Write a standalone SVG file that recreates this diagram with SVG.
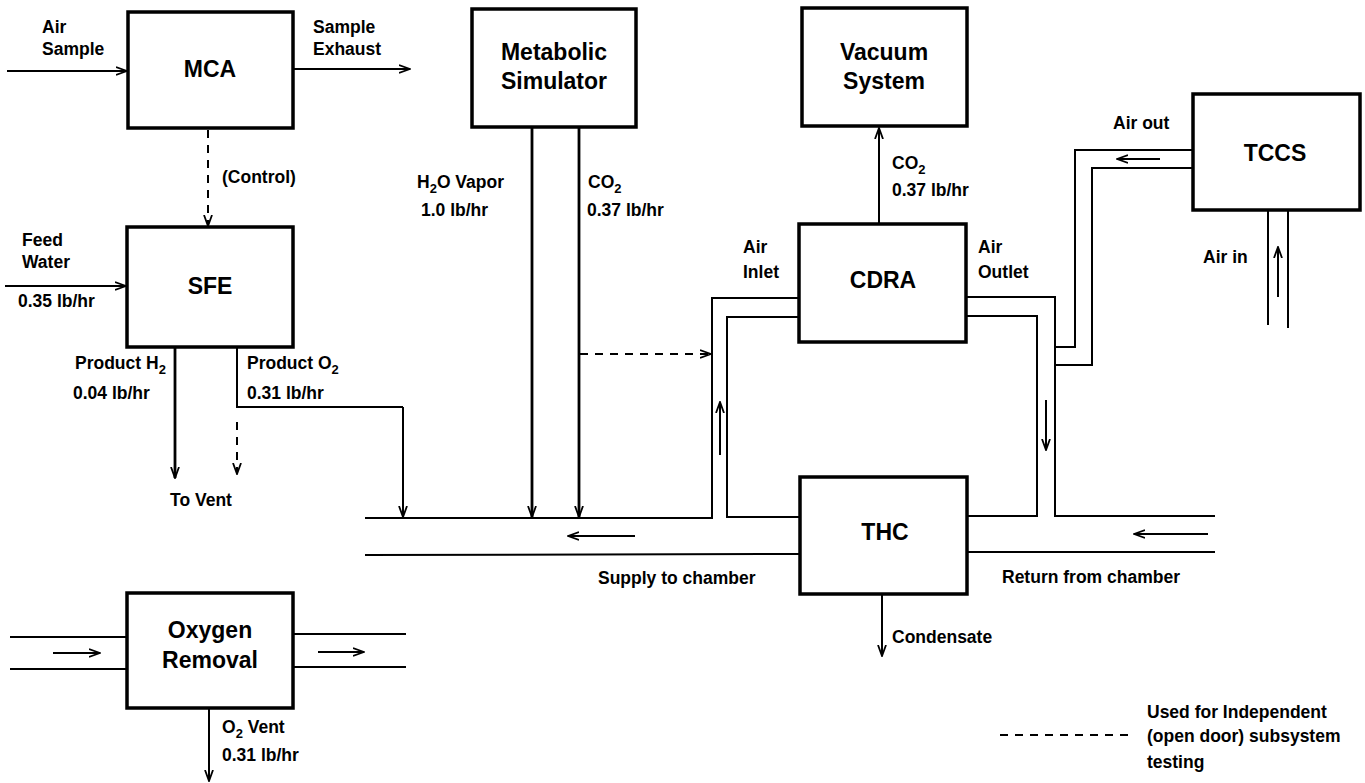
<svg xmlns="http://www.w3.org/2000/svg" width="1365" height="783" viewBox="0 0 1365 783">
<defs>
<style>
.box{fill:#fff;stroke:#000;stroke-width:3.5}
.t{font-family:"Liberation Sans",Arial,sans-serif;font-weight:bold;font-size:23px;text-anchor:middle;fill:#000}
.l{font-family:"Liberation Sans",Arial,sans-serif;font-weight:bold;font-size:17.5px;fill:#000}
.ln{fill:none;stroke:#000;stroke-width:2}
.thk{fill:none;stroke:#000;stroke-width:2.8}
.ds{fill:none;stroke:#000;stroke-width:2;stroke-dasharray:8,7}
.ar{marker-end:url(#arr)}
</style>
<marker id="arr" viewBox="0 0 12 10" refX="11" refY="5" markerWidth="12" markerHeight="10" markerUnits="userSpaceOnUse" orient="auto">
<path d="M0,1 L11,5 L0,9" fill="none" stroke="#000" stroke-width="1.8"/>
</marker>
</defs>
<rect width="1365" height="783" fill="#fff"/>

<g id="connectors">
<!-- MCA -->
<line class="ln ar" x1="7" y1="71" x2="127" y2="71"/>
<line class="ln ar" x1="293" y1="69" x2="410" y2="69"/>
<line class="ds ar" x1="208" y1="130" x2="208" y2="226"/>
<!-- SFE -->
<line class="ln ar" x1="5" y1="286" x2="126" y2="286"/>
<line class="thk ar" x1="175" y1="348" x2="175" y2="478"/>
<polyline class="ln" points="237,348 237,407 403,407"/>
<line class="ln ar" x1="403" y1="407" x2="403" y2="517"/>
<line class="ds ar" x1="237" y1="422" x2="237" y2="474"/>
<!-- Metabolic -->
<line class="thk ar" x1="532" y1="128" x2="532" y2="517"/>
<line class="thk ar" x1="579" y1="128" x2="579" y2="517"/>
<line class="ds ar" x1="580" y1="354" x2="711" y2="354"/>
<!-- supply pipe -->
<polyline class="ln" points="365,518 712,518 712,298 798,298"/>
<polyline class="ln" points="798,317 727,317 727,517 799,517"/>
<line class="ln" x1="365" y1="555" x2="799" y2="554"/>
<line class="ln ar" x1="635" y1="536" x2="568" y2="536"/>
<line class="ln ar" x1="720" y1="455" x2="720" y2="402"/>
<!-- CDRA to vacuum -->
<line class="ln ar" x1="879" y1="223" x2="879" y2="128"/>
<!-- return pipe -->
<polyline class="ln" points="967,297 1055,297 1055,516 1215,516"/>
<polyline class="ln" points="967,316 1037,316 1037,516 968,516"/>
<line class="ln" x1="968" y1="552" x2="1215" y2="552"/>
<line class="ln ar" x1="1208" y1="534" x2="1134" y2="534"/>
<line class="ln ar" x1="1046" y1="400" x2="1046" y2="450"/>
<!-- TCCS pipes -->
<polyline class="ln" points="1192,150 1075,150 1075,347 1055,347"/>
<polyline class="ln" points="1192,168 1092,168 1092,365 1055,365"/>
<line class="ln ar" x1="1160" y1="159" x2="1117" y2="159"/>
<line class="ln" x1="1268" y1="211" x2="1268" y2="325"/>
<line class="ln" x1="1288" y1="211" x2="1288" y2="328"/>
<line class="ln ar" x1="1278" y1="297" x2="1278" y2="247"/>
<!-- THC condensate -->
<line class="ln ar" x1="882" y1="595" x2="882" y2="656"/>
<!-- Oxygen removal -->
<line class="ln" x1="10" y1="637" x2="126" y2="637"/>
<line class="ln" x1="10" y1="669" x2="126" y2="669"/>
<line class="ln ar" x1="53" y1="653" x2="100" y2="653"/>
<line class="ln" x1="294" y1="634" x2="406" y2="634"/>
<line class="ln" x1="294" y1="667" x2="406" y2="667"/>
<line class="ln ar" x1="318" y1="652" x2="364" y2="652"/>
<line class="ln ar" x1="209" y1="709" x2="209" y2="781"/>
<!-- legend -->
<line class="ds" x1="1000" y1="735" x2="1128" y2="735"/>
</g>

<g id="node-mca">
<rect class="box" x="128" y="12" width="165" height="116"/>
<text class="t" x="210" y="77">MCA</text>
<text class="l" x="42" y="33">Air</text>
<text class="l" x="42" y="55">Sample</text>
<text class="l" x="313" y="33">Sample</text>
<text class="l" x="313" y="55">Exhaust</text>
<text class="l" x="222" y="183">(Control)</text>
</g>

<g id="node-sfe">
<rect class="box" x="127" y="227" width="166" height="120"/>
<text class="t" x="210" y="294">SFE</text>
<text class="l" x="22" y="246">Feed</text>
<text class="l" x="22" y="268">Water</text>
<text class="l" x="18" y="307">0.35 lb/hr</text>
<text class="l" x="75" y="369">Product H<tspan font-size="13" dy="5">2</tspan></text>
<text class="l" x="73" y="399">0.04 lb/hr</text>
<text class="l" x="247" y="369">Product O<tspan font-size="13" dy="5">2</tspan></text>
<text class="l" x="247" y="399">0.31 lb/hr</text>
<text class="l" x="170" y="506">To Vent</text>
</g>

<g id="node-metabolic">
<rect class="box" x="472" y="9" width="164" height="118"/>
<text class="t" x="554" y="60">Metabolic</text>
<text class="t" x="554" y="89">Simulator</text>
<text class="l" x="417" y="188">H<tspan font-size="13" dy="5">2</tspan><tspan dy="-5">O Vapor</tspan></text>
<text class="l" x="421" y="216">1.0 lb/hr</text>
<text class="l" x="588" y="188">CO<tspan font-size="13" dy="5">2</tspan></text>
<text class="l" x="587" y="216">0.37 lb/hr</text>
</g>

<g id="node-vacuum">
<rect class="box" x="802" y="8" width="165" height="118"/>
<text class="t" x="884" y="60">Vacuum</text>
<text class="t" x="884" y="89">System</text>
<text class="l" x="892" y="169">CO<tspan font-size="13" dy="5">2</tspan></text>
<text class="l" x="892" y="196">0.37 lb/hr</text>
</g>

<g id="node-cdra">
<rect class="box" x="799" y="224" width="167" height="118"/>
<text class="t" x="883" y="288">CDRA</text>
<text class="l" x="743" y="253">Air</text>
<text class="l" x="743" y="278">Inlet</text>
<text class="l" x="978" y="253">Air</text>
<text class="l" x="978" y="278">Outlet</text>
</g>

<g id="node-tccs">
<rect class="box" x="1193" y="94" width="167" height="116"/>
<text class="t" x="1275" y="161">TCCS</text>
<text class="l" x="1113" y="129">Air out</text>
<text class="l" x="1203" y="263">Air in</text>
</g>

<g id="node-thc">
<rect class="box" x="800" y="477" width="167" height="117"/>
<text class="t" x="885" y="540">THC</text>
<text class="l" x="598" y="584">Supply to chamber</text>
<text class="l" x="1002" y="583">Return from chamber</text>
<text class="l" x="892" y="643">Condensate</text>
</g>

<g id="node-oxygen">
<rect class="box" x="127" y="593" width="166" height="115"/>
<text class="t" x="210" y="638">Oxygen</text>
<text class="t" x="210" y="668">Removal</text>
<text class="l" x="222" y="733">O<tspan font-size="13" dy="5">2</tspan><tspan dy="-5"> Vent</tspan></text>
<text class="l" x="222" y="761">0.31 lb/hr</text>
</g>

<g id="legend">
<text class="l" x="1147" y="718">Used for Independent</text>
<text class="l" x="1147" y="742">(open door) subsystem</text>
<text class="l" x="1147" y="768">testing</text>
</g>
</svg>
